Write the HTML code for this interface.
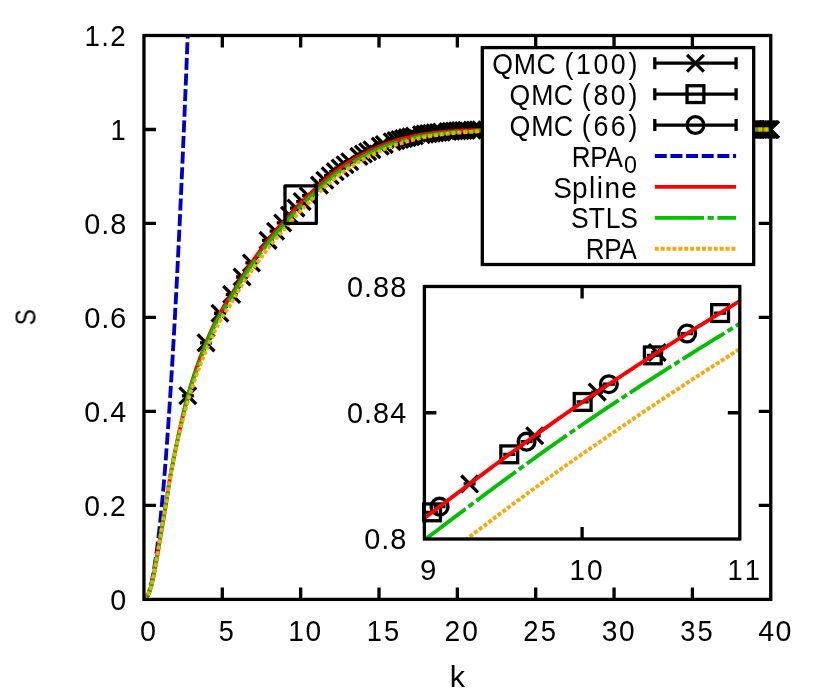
<!DOCTYPE html>
<html>
<head>
<meta charset="utf-8">
<title>S(k)</title>
<style>
html,body{margin:0;padding:0;background:#fff;}
body{width:822px;height:698px;overflow:hidden;font-family:"Liberation Sans",sans-serif;}
svg{display:block;}
</style>
</head>
<body>
<svg width="822" height="698" viewBox="0 0 822 698">
<defs>
<clipPath id="cm"><rect x="143.95" y="35.50" width="626.80" height="563.90"/></clipPath>
<clipPath id="ci"><rect x="424.40" y="286.50" width="315.40" height="252.50"/></clipPath>
</defs>
<rect x="0" y="0" width="822" height="698" fill="#fff"/>
<path d="M222.30,599.40 V587.40 M222.30,35.50 V47.50 M300.65,599.40 V587.40 M300.65,35.50 V47.50 M379.00,599.40 V587.40 M379.00,35.50 V47.50 M457.35,599.40 V587.40 M457.35,35.50 V47.50 M535.70,599.40 V587.40 M535.70,35.50 V47.50 M614.05,599.40 V587.40 M614.05,35.50 V47.50 M692.40,599.40 V587.40 M692.40,35.50 V47.50 M143.95,505.42 H155.95 M770.75,505.42 H758.75 M143.95,411.43 H155.95 M770.75,411.43 H758.75 M143.95,317.45 H155.95 M770.75,317.45 H758.75 M143.95,223.47 H155.95 M770.75,223.47 H758.75 M143.95,129.48 H155.95 M770.75,129.48 H758.75" fill="none" stroke="#000" stroke-width="3.30"/>
<path d="M181.83,395.79 L193.83,395.79 M200.00,342.83 L212.00,342.83 M213.95,313.23 L225.95,313.23 M225.70,294.42 L237.70,294.42 M236.06,277.01 L248.06,277.01 M245.42,262.97 L257.42,262.97 M262.05,240.39 L274.05,240.39 M269.58,231.22 L281.58,231.22 M276.70,222.97 L288.70,222.97 M283.47,215.27 L295.47,215.27 M289.94,208.09 L301.94,208.09 M296.15,201.59 L308.15,201.59 M302.12,195.70 L314.12,195.70 M313.45,185.18 L325.45,185.18 M318.86,180.30 L330.86,180.30 M324.10,175.75 L336.10,175.75 M329.20,171.65 L341.20,171.65 M334.17,168.03 L346.17,168.03 M339.02,164.76 L351.02,164.76 M343.75,161.76 L355.75,161.76 M352.90,156.42 L364.90,156.42 M357.33,154.00 L369.33,154.00 M361.67,151.76 L373.67,151.76 M365.94,149.72 L377.94,149.72 M374.23,146.16 L386.23,146.16 M378.27,144.57 L390.27,144.57 M386.15,141.77 L398.15,141.77 M390.00,140.56 L402.00,140.56 M393.79,139.51 L405.79,139.51 M397.52,138.56 L409.52,138.56 M401.21,137.65 L413.21,137.65 M404.84,136.79 L416.84,136.79 M408.42,136.00 L420.42,136.00 M415.45,134.64 L427.45,134.64 M418.89,134.10 L430.89,134.10 M422.30,133.65 L434.30,133.65 M425.66,133.22 L437.66,133.22 M428.99,132.82 L440.99,132.82 M432.28,132.45 L444.28,132.45 M435.53,132.11 L447.53,132.11 M441.93,131.51 L453.93,131.51 M445.08,131.25 L457.08,131.25 M448.20,131.02 L460.20,131.02 M451.29,130.83 L463.29,130.83 M454.34,130.66 L466.34,130.66 M457.37,130.52 L469.37,130.52 M460.37,130.38 L472.37,130.38 M466.29,130.13 L478.29,130.13 M469.21,130.03 L481.21,130.03 M472.10,129.93 L484.10,129.93 M474.97,129.85 L486.97,129.85 M480.63,129.74 L492.63,129.74 M483.43,129.71 L495.43,129.71 M488.96,129.66 L500.96,129.66 M491.69,129.64 L503.69,129.64 M494.40,129.62 L506.40,129.62 M497.09,129.60 L509.09,129.60 M499.76,129.58 L511.76,129.58 M502.41,129.57 L514.41,129.57 M505.04,129.55 L517.04,129.55 M510.25,129.53 L522.25,129.53 M512.83,129.52 L524.83,129.52 M515.39,129.51 L527.39,129.51 M517.93,129.50 L529.93,129.50 M520.45,129.49 L532.45,129.49 M522.96,129.49 L534.96,129.49 M525.45,129.49 L537.45,129.49 M530.39,129.48 L542.39,129.48 M532.83,129.48 L544.83,129.48 M535.26,129.48 L547.26,129.48 M537.68,129.48 L549.68,129.48 M540.08,129.48 L552.08,129.48 M542.47,129.48 L554.47,129.48 M544.84,129.48 L556.84,129.48 M549.54,129.48 L561.54,129.48 M551.88,129.48 L563.88,129.48 M554.19,129.48 L566.19,129.48 M556.50,129.48 L568.50,129.48 M561.07,129.48 L573.07,129.48 M563.34,129.48 L575.34,129.48 M567.85,129.48 L579.85,129.48 M570.08,129.48 L582.08,129.48 M572.30,129.48 L584.30,129.48 M574.51,129.48 L586.51,129.48 M576.71,129.48 L588.71,129.48 M578.90,129.48 L590.90,129.48 M581.08,129.48 L593.08,129.48 M585.40,129.48 L597.40,129.48 M587.55,129.48 L599.55,129.48 M589.68,129.48 L601.68,129.48 M591.81,129.48 L603.81,129.48 M593.92,129.48 L605.92,129.48 M596.03,129.48 L608.03,129.48 M598.13,129.48 L610.13,129.48 M604.36,129.48 L616.36,129.48 M606.42,129.48 L618.42,129.48 M608.47,129.48 L620.47,129.48 M610.51,129.48 L622.51,129.48 M612.54,129.48 L624.54,129.48 M614.57,129.48 L626.57,129.48 M618.59,129.48 L630.59,129.48 M620.59,129.48 L632.59,129.48 M622.58,129.48 L634.58,129.48 M624.56,129.48 L636.56,129.48 M628.50,129.48 L640.50,129.48 M630.46,129.48 L642.46,129.48 M634.35,129.48 L646.35,129.48 M636.29,129.48 L648.29,129.48 M638.21,129.48 L650.21,129.48 M640.13,129.48 L652.13,129.48 M642.05,129.48 L654.05,129.48 M643.95,129.48 L655.95,129.48 M645.85,129.48 L657.85,129.48 M649.63,129.48 L661.63,129.48 M651.51,129.48 L663.51,129.48 M653.38,129.48 L665.38,129.48 M655.24,129.48 L667.24,129.48 M657.10,129.48 L669.10,129.48 M658.95,129.48 L670.95,129.48 M660.79,129.48 L672.79,129.48 M664.46,129.48 L676.46,129.48 M666.29,129.48 L678.29,129.48 M668.11,129.48 L680.11,129.48 M669.92,129.48 L681.92,129.48 M671.72,129.48 L683.72,129.48 M673.52,129.48 L685.52,129.48 M675.32,129.48 L687.32,129.48 M678.89,129.48 L690.89,129.48 M680.67,129.48 L692.67,129.48 M682.44,129.48 L694.44,129.48 M684.20,129.48 L696.20,129.48 M687.71,129.48 L699.71,129.48 M689.46,129.48 L701.46,129.48 M692.94,129.48 L704.94,129.48 M694.67,129.48 L706.67,129.48 M696.40,129.48 L708.40,129.48 M698.12,129.48 L710.12,129.48 M699.84,129.48 L711.84,129.48 M701.55,129.48 L713.55,129.48 M703.25,129.48 L715.25,129.48 M706.65,129.48 L718.65,129.48 M708.34,129.48 L720.34,129.48 M710.02,129.48 L722.02,129.48 M711.70,129.48 L723.70,129.48 M713.38,129.48 L725.38,129.48 M715.05,129.48 L727.05,129.48 M716.71,129.48 L728.71,129.48 M720.03,129.48 L732.03,129.48 M721.68,129.48 L733.68,129.48 M723.33,129.48 L735.33,129.48 M724.97,129.48 L736.97,129.48 M726.61,129.48 L738.61,129.48 M728.24,129.48 L740.24,129.48 M729.87,129.48 L741.87,129.48 M733.11,129.48 L745.11,129.48 M734.73,129.48 L746.73,129.48 M736.34,129.48 L748.34,129.48 M737.95,129.48 L749.95,129.48 M741.15,129.48 L753.15,129.48 M742.74,129.48 L754.74,129.48 M745.91,129.48 L757.91,129.48 M747.49,129.48 L759.49,129.48 M749.07,129.48 L761.07,129.48 M750.64,129.48 L762.64,129.48 M752.21,129.48 L764.21,129.48 M753.78,129.48 L765.78,129.48 M755.34,129.48 L767.34,129.48 M758.45,129.48 L770.45,129.48 M760.00,129.48 L772.00,129.48 M761.55,129.48 L773.55,129.48 M763.09,129.48 L775.09,129.48 M764.62,129.48 L776.62,129.48" fill="none" stroke="#000" stroke-width="3.30" stroke-linecap="butt" clip-path="url(#cm)"/>
<path d="M179.43,387.39 L196.23,404.19 M179.43,404.19 L196.23,387.39 M197.60,334.43 L214.40,351.23 M197.60,351.23 L214.40,334.43 M211.55,304.83 L228.35,321.63 M211.55,321.63 L228.35,304.83 M223.30,286.02 L240.10,302.82 M223.30,302.82 L240.10,286.02 M233.66,268.61 L250.46,285.41 M233.66,285.41 L250.46,268.61 M243.02,254.57 L259.82,271.37 M243.02,271.37 L259.82,254.57 M259.65,231.99 L276.45,248.79 M259.65,248.79 L276.45,231.99 M267.18,222.82 L283.98,239.62 M267.18,239.62 L283.98,222.82 M274.30,214.57 L291.10,231.37 M274.30,231.37 L291.10,214.57 M281.07,206.87 L297.87,223.67 M281.07,223.67 L297.87,206.87 M287.54,199.69 L304.34,216.49 M287.54,216.49 L304.34,199.69 M293.75,193.19 L310.55,209.99 M293.75,209.99 L310.55,193.19 M299.72,187.30 L316.52,204.10 M299.72,204.10 L316.52,187.30 M311.05,176.78 L327.85,193.58 M311.05,193.58 L327.85,176.78 M316.46,171.90 L333.26,188.70 M316.46,188.70 L333.26,171.90 M321.70,167.35 L338.50,184.15 M321.70,184.15 L338.50,167.35 M326.80,163.25 L343.60,180.05 M326.80,180.05 L343.60,163.25 M331.77,159.63 L348.57,176.43 M331.77,176.43 L348.57,159.63 M336.62,156.36 L353.42,173.16 M336.62,173.16 L353.42,156.36 M341.35,153.36 L358.15,170.16 M341.35,170.16 L358.15,153.36 M350.50,148.02 L367.30,164.82 M350.50,164.82 L367.30,148.02 M354.93,145.60 L371.73,162.40 M354.93,162.40 L371.73,145.60 M359.27,143.36 L376.07,160.16 M359.27,160.16 L376.07,143.36 M363.54,141.32 L380.34,158.12 M363.54,158.12 L380.34,141.32 M371.83,137.76 L388.63,154.56 M371.83,154.56 L388.63,137.76 M375.87,136.17 L392.67,152.97 M375.87,152.97 L392.67,136.17 M383.75,133.37 L400.55,150.17 M383.75,150.17 L400.55,133.37 M387.60,132.16 L404.40,148.96 M387.60,148.96 L404.40,132.16 M391.39,131.11 L408.19,147.91 M391.39,147.91 L408.19,131.11 M395.12,130.16 L411.92,146.96 M395.12,146.96 L411.92,130.16 M398.81,129.25 L415.61,146.05 M398.81,146.05 L415.61,129.25 M402.44,128.39 L419.24,145.19 M402.44,145.19 L419.24,128.39 M406.02,127.60 L422.82,144.40 M406.02,144.40 L422.82,127.60 M413.05,126.24 L429.85,143.04 M413.05,143.04 L429.85,126.24 M416.49,125.70 L433.29,142.50 M416.49,142.50 L433.29,125.70 M419.90,125.25 L436.70,142.05 M419.90,142.05 L436.70,125.25 M423.26,124.82 L440.06,141.62 M423.26,141.62 L440.06,124.82 M426.59,124.42 L443.39,141.22 M426.59,141.22 L443.39,124.42 M429.88,124.05 L446.68,140.85 M429.88,140.85 L446.68,124.05 M433.13,123.71 L449.93,140.51 M433.13,140.51 L449.93,123.71 M439.53,123.11 L456.33,139.91 M439.53,139.91 L456.33,123.11 M442.68,122.85 L459.48,139.65 M442.68,139.65 L459.48,122.85 M445.80,122.62 L462.60,139.42 M445.80,139.42 L462.60,122.62 M448.89,122.43 L465.69,139.23 M448.89,139.23 L465.69,122.43 M451.94,122.26 L468.74,139.06 M451.94,139.06 L468.74,122.26 M454.97,122.12 L471.77,138.92 M454.97,138.92 L471.77,122.12 M457.97,121.98 L474.77,138.78 M457.97,138.78 L474.77,121.98 M463.89,121.73 L480.69,138.53 M463.89,138.53 L480.69,121.73 M466.81,121.63 L483.61,138.43 M466.81,138.43 L483.61,121.63 M469.70,121.53 L486.50,138.33 M469.70,138.33 L486.50,121.53 M472.57,121.45 L489.37,138.25 M472.57,138.25 L489.37,121.45 M478.23,121.34 L495.03,138.14 M478.23,138.14 L495.03,121.34 M481.03,121.31 L497.83,138.11 M481.03,138.11 L497.83,121.31 M486.56,121.26 L503.36,138.06 M486.56,138.06 L503.36,121.26 M489.29,121.24 L506.09,138.04 M489.29,138.04 L506.09,121.24 M492.00,121.22 L508.80,138.02 M492.00,138.02 L508.80,121.22 M494.69,121.20 L511.49,138.00 M494.69,138.00 L511.49,121.20 M497.36,121.18 L514.16,137.98 M497.36,137.98 L514.16,121.18 M500.01,121.17 L516.81,137.97 M500.01,137.97 L516.81,121.17 M502.64,121.15 L519.44,137.95 M502.64,137.95 L519.44,121.15 M507.85,121.13 L524.65,137.93 M507.85,137.93 L524.65,121.13 M510.43,121.12 L527.23,137.92 M510.43,137.92 L527.23,121.12 M512.99,121.11 L529.79,137.91 M512.99,137.91 L529.79,121.11 M515.53,121.10 L532.33,137.90 M515.53,137.90 L532.33,121.10 M518.05,121.09 L534.85,137.89 M518.05,137.89 L534.85,121.09 M520.56,121.09 L537.36,137.89 M520.56,137.89 L537.36,121.09 M523.05,121.09 L539.85,137.89 M523.05,137.89 L539.85,121.09 M527.99,121.08 L544.79,137.88 M527.99,137.88 L544.79,121.08 M530.43,121.08 L547.23,137.88 M530.43,137.88 L547.23,121.08 M532.86,121.08 L549.66,137.88 M532.86,137.88 L549.66,121.08 M535.28,121.08 L552.08,137.88 M535.28,137.88 L552.08,121.08 M537.68,121.08 L554.48,137.88 M537.68,137.88 L554.48,121.08 M540.07,121.08 L556.87,137.88 M540.07,137.88 L556.87,121.08 M542.44,121.08 L559.24,137.88 M542.44,137.88 L559.24,121.08 M547.14,121.08 L563.94,137.88 M547.14,137.88 L563.94,121.08 M549.48,121.08 L566.28,137.88 M549.48,137.88 L566.28,121.08 M551.79,121.08 L568.59,137.88 M551.79,137.88 L568.59,121.08 M554.10,121.08 L570.90,137.88 M554.10,137.88 L570.90,121.08 M558.67,121.08 L575.47,137.88 M558.67,137.88 L575.47,121.08 M560.94,121.08 L577.74,137.88 M560.94,137.88 L577.74,121.08 M565.45,121.08 L582.25,137.88 M565.45,137.88 L582.25,121.08 M567.68,121.08 L584.48,137.88 M567.68,137.88 L584.48,121.08 M569.90,121.08 L586.70,137.88 M569.90,137.88 L586.70,121.08 M572.11,121.08 L588.91,137.88 M572.11,137.88 L588.91,121.08 M574.31,121.08 L591.11,137.88 M574.31,137.88 L591.11,121.08 M576.50,121.08 L593.30,137.88 M576.50,137.88 L593.30,121.08 M578.68,121.08 L595.48,137.88 M578.68,137.88 L595.48,121.08 M583.00,121.08 L599.80,137.88 M583.00,137.88 L599.80,121.08 M585.15,121.08 L601.95,137.88 M585.15,137.88 L601.95,121.08 M587.28,121.08 L604.08,137.88 M587.28,137.88 L604.08,121.08 M589.41,121.08 L606.21,137.88 M589.41,137.88 L606.21,121.08 M591.52,121.08 L608.32,137.88 M591.52,137.88 L608.32,121.08 M593.63,121.08 L610.43,137.88 M593.63,137.88 L610.43,121.08 M595.73,121.08 L612.53,137.88 M595.73,137.88 L612.53,121.08 M601.96,121.08 L618.76,137.88 M601.96,137.88 L618.76,121.08 M604.02,121.08 L620.82,137.88 M604.02,137.88 L620.82,121.08 M606.07,121.08 L622.87,137.88 M606.07,137.88 L622.87,121.08 M608.11,121.08 L624.91,137.88 M608.11,137.88 L624.91,121.08 M610.14,121.08 L626.94,137.88 M610.14,137.88 L626.94,121.08 M612.17,121.08 L628.97,137.88 M612.17,137.88 L628.97,121.08 M616.19,121.08 L632.99,137.88 M616.19,137.88 L632.99,121.08 M618.19,121.08 L634.99,137.88 M618.19,137.88 L634.99,121.08 M620.18,121.08 L636.98,137.88 M620.18,137.88 L636.98,121.08 M622.16,121.08 L638.96,137.88 M622.16,137.88 L638.96,121.08 M626.10,121.08 L642.90,137.88 M626.10,137.88 L642.90,121.08 M628.06,121.08 L644.86,137.88 M628.06,137.88 L644.86,121.08 M631.95,121.08 L648.75,137.88 M631.95,137.88 L648.75,121.08 M633.89,121.08 L650.69,137.88 M633.89,137.88 L650.69,121.08 M635.81,121.08 L652.61,137.88 M635.81,137.88 L652.61,121.08 M637.73,121.08 L654.53,137.88 M637.73,137.88 L654.53,121.08 M639.65,121.08 L656.45,137.88 M639.65,137.88 L656.45,121.08 M641.55,121.08 L658.35,137.88 M641.55,137.88 L658.35,121.08 M643.45,121.08 L660.25,137.88 M643.45,137.88 L660.25,121.08 M647.23,121.08 L664.03,137.88 M647.23,137.88 L664.03,121.08 M649.11,121.08 L665.91,137.88 M649.11,137.88 L665.91,121.08 M650.98,121.08 L667.78,137.88 M650.98,137.88 L667.78,121.08 M652.84,121.08 L669.64,137.88 M652.84,137.88 L669.64,121.08 M654.70,121.08 L671.50,137.88 M654.70,137.88 L671.50,121.08 M656.55,121.08 L673.35,137.88 M656.55,137.88 L673.35,121.08 M658.39,121.08 L675.19,137.88 M658.39,137.88 L675.19,121.08 M662.06,121.08 L678.86,137.88 M662.06,137.88 L678.86,121.08 M663.89,121.08 L680.69,137.88 M663.89,137.88 L680.69,121.08 M665.71,121.08 L682.51,137.88 M665.71,137.88 L682.51,121.08 M667.52,121.08 L684.32,137.88 M667.52,137.88 L684.32,121.08 M669.32,121.08 L686.12,137.88 M669.32,137.88 L686.12,121.08 M671.12,121.08 L687.92,137.88 M671.12,137.88 L687.92,121.08 M672.92,121.08 L689.72,137.88 M672.92,137.88 L689.72,121.08 M676.49,121.08 L693.29,137.88 M676.49,137.88 L693.29,121.08 M678.27,121.08 L695.07,137.88 M678.27,137.88 L695.07,121.08 M680.04,121.08 L696.84,137.88 M680.04,137.88 L696.84,121.08 M681.80,121.08 L698.60,137.88 M681.80,137.88 L698.60,121.08 M685.31,121.08 L702.11,137.88 M685.31,137.88 L702.11,121.08 M687.06,121.08 L703.86,137.88 M687.06,137.88 L703.86,121.08 M690.54,121.08 L707.34,137.88 M690.54,137.88 L707.34,121.08 M692.27,121.08 L709.07,137.88 M692.27,137.88 L709.07,121.08 M694.00,121.08 L710.80,137.88 M694.00,137.88 L710.80,121.08 M695.72,121.08 L712.52,137.88 M695.72,137.88 L712.52,121.08 M697.44,121.08 L714.24,137.88 M697.44,137.88 L714.24,121.08 M699.15,121.08 L715.95,137.88 M699.15,137.88 L715.95,121.08 M700.85,121.08 L717.65,137.88 M700.85,137.88 L717.65,121.08 M704.25,121.08 L721.05,137.88 M704.25,137.88 L721.05,121.08 M705.94,121.08 L722.74,137.88 M705.94,137.88 L722.74,121.08 M707.62,121.08 L724.42,137.88 M707.62,137.88 L724.42,121.08 M709.30,121.08 L726.10,137.88 M709.30,137.88 L726.10,121.08 M710.98,121.08 L727.78,137.88 M710.98,137.88 L727.78,121.08 M712.65,121.08 L729.45,137.88 M712.65,137.88 L729.45,121.08 M714.31,121.08 L731.11,137.88 M714.31,137.88 L731.11,121.08 M717.63,121.08 L734.43,137.88 M717.63,137.88 L734.43,121.08 M719.28,121.08 L736.08,137.88 M719.28,137.88 L736.08,121.08 M720.93,121.08 L737.73,137.88 M720.93,137.88 L737.73,121.08 M722.57,121.08 L739.37,137.88 M722.57,137.88 L739.37,121.08 M724.21,121.08 L741.01,137.88 M724.21,137.88 L741.01,121.08 M725.84,121.08 L742.64,137.88 M725.84,137.88 L742.64,121.08 M727.47,121.08 L744.27,137.88 M727.47,137.88 L744.27,121.08 M730.71,121.08 L747.51,137.88 M730.71,137.88 L747.51,121.08 M732.33,121.08 L749.13,137.88 M732.33,137.88 L749.13,121.08 M733.94,121.08 L750.74,137.88 M733.94,137.88 L750.74,121.08 M735.55,121.08 L752.35,137.88 M735.55,137.88 L752.35,121.08 M738.75,121.08 L755.55,137.88 M738.75,137.88 L755.55,121.08 M740.34,121.08 L757.14,137.88 M740.34,137.88 L757.14,121.08 M743.51,121.08 L760.31,137.88 M743.51,137.88 L760.31,121.08 M745.09,121.08 L761.89,137.88 M745.09,137.88 L761.89,121.08 M746.67,121.08 L763.47,137.88 M746.67,137.88 L763.47,121.08 M748.24,121.08 L765.04,137.88 M748.24,137.88 L765.04,121.08 M749.81,121.08 L766.61,137.88 M749.81,137.88 L766.61,121.08 M751.38,121.08 L768.18,137.88 M751.38,137.88 L768.18,121.08 M752.94,121.08 L769.74,137.88 M752.94,137.88 L769.74,121.08 M756.05,121.08 L772.85,137.88 M756.05,137.88 L772.85,121.08 M757.60,121.08 L774.40,137.88 M757.60,137.88 L774.40,121.08 M759.15,121.08 L775.95,137.88 M759.15,137.88 L775.95,121.08 M760.69,121.08 L777.49,137.88 M760.69,137.88 L777.49,121.08 M762.22,121.08 L779.02,137.88 M762.22,137.88 L779.02,121.08" fill="none" stroke="#000" stroke-width="3.30" stroke-linecap="butt"/>
<g clip-path="url(#cm)" fill="none" stroke-width="3.85" stroke-linejoin="round">
<path d="M143.95,599.40 L144.34,599.35 L144.73,599.22 L145.13,598.99 L145.52,598.68 L145.91,598.27 L146.30,597.77 L146.69,597.18 L147.08,596.51 L147.48,595.74 L147.87,594.88 L148.26,593.93 L148.65,592.89 L149.04,591.76 L149.43,590.54 L149.83,589.22 L150.22,587.82 L150.61,586.33 L151.00,584.75 L151.39,583.07 L151.78,581.31 L152.18,579.45 L152.57,577.51 L152.96,575.47 L153.35,573.35 L153.74,571.13 L154.14,568.82 L154.53,566.43 L154.92,563.94 L155.31,561.36 L155.70,558.69 L156.09,555.93 L156.49,553.09 L156.88,550.15 L157.27,547.11 L157.66,543.99 L158.05,540.78 L158.44,537.48 L158.84,534.09 L159.23,530.61 L159.62,527.03 L160.01,523.37 L160.40,519.62 L160.80,515.77 L161.19,511.84 L161.58,507.81 L161.97,503.69 L162.36,499.49 L162.75,495.19 L163.15,490.80 L163.54,486.33 L163.93,481.76 L164.32,477.10 L164.71,472.35 L165.10,467.51 L165.50,462.58 L165.89,457.56 L166.28,452.45 L166.67,447.25 L167.06,441.96 L167.45,436.57 L167.85,431.10 L168.24,425.54 L168.63,419.88 L169.02,414.14 L169.41,408.31 L169.81,402.38 L170.20,396.36 L170.59,390.26 L170.98,384.06 L171.37,377.78 L171.76,371.40 L172.16,364.93 L172.55,358.37 L172.94,351.72 L173.33,344.98 L173.72,338.15 L174.11,331.23 L174.51,324.22 L174.90,317.12 L175.29,309.93 L175.68,302.65 L176.07,295.28 L176.47,287.81 L176.86,280.26 L177.25,272.62 L177.64,264.88 L178.03,257.06 L178.42,249.14 L178.82,241.14 L179.21,233.04 L179.60,224.85 L179.99,216.58 L180.38,208.21 L180.77,199.75 L181.17,191.20 L181.56,182.57 L181.95,173.84 L182.34,165.02 L182.73,156.11 L183.12,147.11 L183.52,138.01 L183.91,128.83 L184.30,119.56 L184.69,110.20 L185.08,100.74 L185.48,91.20 L185.87,81.57 L186.26,71.84 L186.65,62.03 L187.04,52.12 L187.43,42.13 L187.83,32.04 L188.22,21.86 L188.61,11.60 L189.00,1.24 L189.39,-9.21 L189.78,-19.75 L190.18,-30.38 L190.57,-41.09 L190.96,-51.90" stroke="#0000cd" stroke-dasharray="12 3.64" stroke-dashoffset="-1.5"/>
<path d="M143.95,599.40 L144.73,599.14 L145.52,598.52 L146.30,597.62 L147.08,596.54 L147.87,595.36 L148.65,593.84 L149.43,591.79 L150.22,589.34 L151.00,586.63 L151.78,583.76 L152.57,580.51 L153.35,576.84 L154.14,572.82 L154.92,568.55 L155.70,564.12 L156.49,559.60 L157.27,555.08 L158.05,550.65 L158.84,546.17 L159.62,541.54 L160.40,536.83 L161.19,532.10 L161.97,527.41 L162.75,522.78 L163.54,518.16 L164.32,513.53 L165.10,508.86 L165.89,504.13 L166.67,499.27 L167.45,494.23 L168.24,489.12 L169.02,484.08 L169.81,479.25 L170.59,474.75 L171.37,470.44 L172.16,466.24 L172.94,462.16 L173.72,458.19 L174.51,454.30 L175.29,450.48 L176.07,446.73 L176.86,443.03 L177.64,439.37 L178.42,435.72 L179.21,432.08 L179.99,428.47 L180.77,424.89 L181.56,421.35 L182.34,417.86 L183.12,414.43 L183.91,411.08 L184.69,407.82 L185.48,404.64 L186.26,401.57 L187.04,398.62 L187.83,395.79 L188.61,393.04 L189.39,390.35 L190.18,387.71 L190.96,385.12 L191.74,382.57 L192.53,380.07 L193.31,377.61 L194.09,375.19 L194.88,372.82 L195.66,370.48 L196.44,368.19 L197.23,365.93 L198.01,363.71 L198.79,361.52 L199.58,359.36 L200.36,357.24 L201.15,355.15 L201.93,353.10 L202.71,351.07 L203.50,349.06 L204.28,347.09 L205.06,345.14 L205.85,343.21 L206.63,341.31 L207.41,339.43 L208.20,337.59 L208.98,335.77 L209.76,333.98 L210.55,332.22 L211.33,330.49 L212.11,328.78 L212.90,327.10 L213.68,325.45 L214.46,323.83 L215.25,322.24 L216.03,320.67 L216.82,319.12 L217.60,317.61 L218.38,316.12 L219.17,314.66 L219.95,313.22 L220.73,311.82 L221.52,310.47 L222.30,309.15 L223.08,307.87 L223.87,306.61 L224.65,305.38 L225.43,304.17 L226.22,302.96 L227.00,301.77 L227.78,300.57 L228.57,299.37 L229.35,298.16 L230.13,296.94 L230.92,295.69 L231.70,294.42 L232.49,293.13 L233.27,291.82 L234.05,290.49 L234.84,289.15 L235.62,287.81 L236.40,286.46 L237.19,285.12 L237.97,283.78 L238.75,282.45 L239.54,281.13 L240.32,279.83 L241.10,278.55 L241.89,277.29 L242.67,276.05 L243.45,274.82 L244.24,273.61 L245.02,272.41 L245.80,271.22 L246.59,270.04 L247.37,268.88 L248.16,267.72 L248.94,266.57 L249.72,265.42 L250.51,264.29 L251.29,263.16 L252.07,262.04 L252.86,260.93 L253.64,259.82 L254.42,258.71 L255.21,257.61 L255.99,256.51 L256.77,255.42 L257.56,254.33 L258.34,253.25 L259.12,252.17 L259.91,251.10 L260.69,250.04 L261.48,248.98 L262.26,247.93 L263.04,246.89 L263.83,245.85 L264.61,244.82 L265.39,243.80 L266.18,242.79 L266.96,241.78 L267.74,240.78 L268.53,239.79 L269.31,238.81 L270.09,237.84 L270.88,236.87 L271.66,235.91 L272.44,234.96 L273.23,234.02 L274.01,233.08 L274.79,232.14 L275.58,231.22 L276.36,230.29 L277.14,229.38 L277.93,228.46 L278.71,227.55 L279.50,226.65 L280.28,225.74 L281.06,224.84 L281.85,223.94 L282.63,223.05 L283.41,222.15 L284.20,221.26 L284.98,220.37 L285.76,219.47 L286.55,218.58 L287.33,217.69 L288.11,216.80 L288.90,215.91 L289.68,215.03 L290.46,214.15 L291.25,213.27 L292.03,212.39 L292.81,211.52 L293.60,210.65 L294.38,209.79 L295.17,208.94 L295.95,208.08 L296.73,207.24 L297.52,206.40 L298.30,205.57 L299.08,204.74 L299.87,203.93 L300.65,203.12 L301.43,202.32 L302.22,201.52 L303.00,200.73 L303.78,199.95 L304.57,199.17 L305.35,198.39 L306.13,197.63 L306.92,196.86 L307.70,196.10 L308.49,195.35 L309.27,194.60 L310.05,193.85 L310.84,193.11 L311.62,192.38 L312.40,191.64 L313.19,190.92 L313.97,190.19 L314.75,189.47 L315.54,188.75 L316.32,188.03 L317.10,187.32 L317.89,186.61 L318.67,185.89 L319.45,185.18 L320.24,184.46 L321.02,183.75 L321.80,183.04 L322.59,182.33 L323.37,181.63 L324.15,180.92 L324.94,180.22 L325.72,179.53 L326.51,178.84 L327.29,178.16 L328.07,177.48 L328.86,176.80 L329.64,176.14 L330.42,175.48 L331.21,174.83 L331.99,174.19 L332.77,173.55 L333.56,172.93 L334.34,172.31 L335.12,171.71 L335.91,171.12 L336.69,170.53 L337.47,169.96 L338.26,169.39 L339.04,168.83 L339.82,168.28 L340.61,167.73 L341.39,167.19 L342.18,166.65 L342.96,166.12 L343.74,165.60 L344.53,165.08 L345.31,164.57 L346.09,164.06 L346.88,163.56 L347.66,163.06 L348.44,162.57 L349.23,162.08 L350.01,161.60 L350.79,161.13 L351.58,160.65 L352.36,160.18 L353.14,159.72 L353.93,159.26 L354.71,158.80 L355.50,158.35 L356.28,157.90 L357.06,157.45 L357.85,157.01 L358.63,156.57 L359.41,156.13 L360.20,155.70 L360.98,155.27 L361.76,154.84 L362.55,154.42 L363.33,154.00 L364.11,153.58 L364.90,153.18 L365.68,152.77 L366.46,152.37 L367.25,151.98 L368.03,151.59 L368.81,151.20 L369.60,150.82 L370.38,150.45 L371.16,150.08 L371.95,149.72 L372.73,149.36 L373.52,149.01 L374.30,148.66 L375.08,148.32 L375.87,147.98 L376.65,147.64 L377.43,147.31 L378.22,146.98 L379.00,146.66 L379.78,146.34 L380.57,146.02 L381.35,145.71 L382.13,145.40 L382.92,145.09 L383.70,144.79 L384.48,144.49 L385.27,144.19 L386.05,143.90 L386.83,143.62 L387.62,143.33 L388.40,143.05 L389.19,142.78 L389.97,142.51 L390.75,142.24 L391.54,141.98 L392.32,141.72 L393.10,141.46 L393.89,141.21 L394.67,140.97 L395.45,140.73 L396.24,140.49 L397.02,140.26 L397.80,140.04 L398.59,139.82 L399.37,139.61 L400.15,139.41 L400.94,139.21 L401.72,139.01 L402.50,138.81 L403.29,138.62 L404.07,138.42 L404.86,138.23 L405.64,138.03 L406.42,137.84 L407.21,137.65 L407.99,137.46 L408.77,137.27 L409.56,137.09 L410.34,136.91 L411.12,136.73 L411.91,136.55 L412.69,136.37 L413.47,136.20 L414.26,136.03 L415.04,135.87 L415.82,135.70 L416.61,135.54 L417.39,135.39 L418.18,135.24 L418.96,135.09 L419.74,134.94 L420.53,134.80 L421.31,134.67 L422.09,134.53 L422.88,134.41 L423.66,134.29 L424.44,134.17 L425.23,134.06 L426.01,133.95 L426.79,133.84 L427.58,133.74 L428.36,133.64 L429.14,133.54 L429.93,133.44 L430.71,133.34 L431.49,133.24 L432.28,133.14 L433.06,133.05 L433.84,132.96 L434.63,132.86 L435.41,132.77 L436.20,132.68 L436.98,132.59 L437.76,132.51 L438.55,132.42 L439.33,132.34 L440.11,132.25 L440.90,132.17 L441.68,132.09 L442.46,132.01 L443.25,131.94 L444.03,131.86 L444.81,131.79 L445.60,131.71 L446.38,131.64 L447.16,131.57 L447.95,131.51 L448.73,131.44 L449.51,131.37 L450.30,131.31 L451.08,131.25 L451.87,131.19 L452.65,131.13 L453.43,131.08 L454.22,131.02 L455.00,130.97 L455.78,130.92 L456.57,130.87 L457.35,130.83 L458.13,130.78 L458.92,130.74 L459.70,130.70 L460.48,130.66 L461.27,130.62 L462.05,130.58 L462.83,130.55 L463.62,130.51 L464.40,130.47 L465.19,130.44 L465.97,130.40 L466.75,130.37 L467.54,130.33 L468.32,130.30 L469.10,130.26 L469.89,130.23 L470.67,130.20 L471.45,130.17 L472.24,130.14 L473.02,130.11 L473.80,130.08 L474.59,130.05 L475.37,130.02 L476.15,130.00 L476.94,129.97 L477.72,129.95 L478.50,129.92 L479.29,129.90 L480.07,129.88 L480.85,129.86 L481.64,129.84 L482.42,129.82 L483.21,129.80 L483.99,129.79 L484.77,129.77 L485.56,129.76 L486.34,129.75 L487.12,129.74 L487.91,129.73 L488.69,129.72 L489.47,129.71 L490.26,129.70 L491.04,129.70 L491.82,129.69 L492.61,129.68 L493.39,129.68 L494.17,129.67 L494.96,129.66 L495.74,129.66 L496.52,129.65 L497.31,129.64 L498.09,129.64 L498.88,129.63 L499.66,129.63 L500.44,129.62 L501.23,129.61 L502.01,129.61 L502.79,129.60 L503.58,129.60 L504.36,129.59 L505.14,129.59 L505.93,129.58 L506.71,129.58 L507.49,129.57 L508.28,129.57 L509.06,129.56 L509.84,129.56 L510.63,129.55 L511.41,129.55 L512.19,129.55 L512.98,129.54 L513.76,129.54 L514.55,129.53 L515.33,129.53 L516.11,129.53 L516.90,129.52 L517.68,129.52 L518.46,129.52 L519.25,129.51 L520.03,129.51 L520.81,129.51 L521.60,129.51 L522.38,129.50 L523.16,129.50 L523.95,129.50 L524.73,129.50 L525.51,129.50 L526.30,129.49 L527.08,129.49 L527.87,129.49 L528.65,129.49 L529.43,129.49 L530.22,129.49 L531.00,129.49 L531.78,129.49 L532.57,129.48 L533.35,129.48 L534.13,129.48 L534.92,129.48 L535.70,129.48 L536.48,129.48 L537.27,129.48 L538.05,129.48 L538.83,129.48 L539.62,129.48 L540.40,129.48 L541.18,129.48 L541.97,129.48 L542.75,129.48 L543.53,129.48 L544.32,129.48 L545.10,129.48 L545.89,129.48 L546.67,129.48 L547.45,129.48 L548.24,129.48 L549.02,129.48 L549.80,129.48 L550.59,129.48 L551.37,129.48 L552.15,129.48 L552.94,129.48 L553.72,129.48 L554.50,129.48 L555.29,129.48 L556.07,129.48 L556.85,129.48 L557.64,129.48 L558.42,129.48 L559.20,129.48 L559.99,129.48 L560.77,129.48 L561.56,129.48 L562.34,129.48 L563.12,129.48 L563.91,129.48 L564.69,129.48 L565.47,129.48 L566.26,129.48 L567.04,129.48 L567.82,129.48 L568.61,129.48 L569.39,129.48 L570.17,129.48 L570.96,129.48 L571.74,129.48 L572.52,129.48 L573.31,129.48 L574.09,129.48 L574.88,129.48 L575.66,129.48 L576.44,129.48 L577.23,129.48 L578.01,129.48 L578.79,129.48 L579.58,129.48 L580.36,129.48 L581.14,129.48 L581.93,129.48 L582.71,129.48 L583.49,129.48 L584.28,129.48 L585.06,129.48 L585.84,129.48 L586.63,129.48 L587.41,129.48 L588.19,129.48 L588.98,129.48 L589.76,129.48 L590.54,129.48 L591.33,129.48 L592.11,129.48 L592.90,129.48 L593.68,129.48 L594.46,129.48 L595.25,129.48 L596.03,129.48 L596.81,129.48 L597.60,129.48 L598.38,129.48 L599.16,129.48 L599.95,129.48 L600.73,129.48 L601.51,129.48 L602.30,129.48 L603.08,129.48 L603.86,129.48 L604.65,129.48 L605.43,129.48 L606.21,129.48 L607.00,129.48 L607.78,129.48 L608.57,129.48 L609.35,129.48 L610.13,129.48 L610.92,129.48 L611.70,129.48 L612.48,129.48 L613.27,129.48 L614.05,129.48 L614.83,129.48 L615.62,129.48 L616.40,129.48 L617.18,129.48 L617.97,129.48 L618.75,129.48 L619.53,129.48 L620.32,129.48 L621.10,129.48 L621.88,129.48 L622.67,129.48 L623.45,129.48 L624.24,129.48 L625.02,129.48 L625.80,129.48 L626.59,129.48 L627.37,129.48 L628.15,129.48 L628.94,129.48 L629.72,129.48 L630.50,129.48 L631.29,129.48 L632.07,129.48 L632.85,129.48 L633.64,129.48 L634.42,129.48 L635.20,129.48 L635.99,129.48 L636.77,129.48 L637.55,129.48 L638.34,129.48 L639.12,129.48 L639.91,129.48 L640.69,129.48 L641.47,129.48 L642.26,129.48 L643.04,129.48 L643.82,129.48 L644.61,129.48 L645.39,129.48 L646.17,129.48 L646.96,129.48 L647.74,129.48 L648.52,129.48 L649.31,129.48 L650.09,129.48 L650.87,129.48 L651.66,129.48 L652.44,129.48 L653.22,129.48 L654.01,129.48 L654.79,129.48 L655.58,129.48 L656.36,129.48 L657.14,129.48 L657.93,129.48 L658.71,129.48 L659.49,129.48 L660.28,129.48 L661.06,129.48 L661.84,129.48 L662.63,129.48 L663.41,129.48 L664.19,129.48 L664.98,129.48 L665.76,129.48 L666.54,129.48 L667.33,129.48 L668.11,129.48 L668.89,129.48 L669.68,129.48 L670.46,129.48 L671.25,129.48 L672.03,129.48 L672.81,129.48 L673.60,129.48 L674.38,129.48 L675.16,129.48 L675.95,129.48 L676.73,129.48 L677.51,129.48 L678.30,129.48 L679.08,129.48 L679.86,129.48 L680.65,129.48 L681.43,129.48 L682.21,129.48 L683.00,129.48 L683.78,129.48 L684.57,129.48 L685.35,129.48 L686.13,129.48 L686.92,129.48 L687.70,129.48 L688.48,129.48 L689.27,129.48 L690.05,129.48 L690.83,129.48 L691.62,129.48 L692.40,129.48 L693.18,129.48 L693.97,129.48 L694.75,129.48 L695.53,129.48 L696.32,129.48 L697.10,129.48 L697.88,129.48 L698.67,129.48 L699.45,129.48 L700.23,129.48 L701.02,129.48 L701.80,129.48 L702.59,129.48 L703.37,129.48 L704.15,129.48 L704.94,129.48 L705.72,129.48 L706.50,129.48 L707.29,129.48 L708.07,129.48 L708.85,129.48 L709.64,129.48 L710.42,129.48 L711.20,129.48 L711.99,129.48 L712.77,129.48 L713.55,129.48 L714.34,129.48 L715.12,129.48 L715.90,129.48 L716.69,129.48 L717.47,129.48 L718.26,129.48 L719.04,129.48 L719.82,129.48 L720.61,129.48 L721.39,129.48 L722.17,129.48 L722.96,129.48 L723.74,129.48 L724.52,129.48 L725.31,129.48 L726.09,129.48 L726.87,129.48 L727.66,129.48 L728.44,129.48 L729.22,129.48 L730.01,129.48 L730.79,129.48 L731.58,129.48 L732.36,129.48 L733.14,129.48 L733.93,129.48 L734.71,129.48 L735.49,129.48 L736.28,129.48 L737.06,129.48 L737.84,129.48 L738.63,129.48 L739.41,129.48 L740.19,129.48 L740.98,129.48 L741.76,129.48 L742.54,129.48 L743.33,129.48 L744.11,129.48 L744.89,129.48 L745.68,129.48 L746.46,129.48 L747.24,129.48 L748.03,129.48 L748.81,129.48 L749.60,129.48 L750.38,129.48 L751.16,129.48 L751.95,129.48 L752.73,129.48 L753.51,129.48 L754.30,129.48 L755.08,129.48 L755.86,129.48 L756.65,129.48 L757.43,129.48 L758.21,129.48 L759.00,129.48 L759.78,129.48 L760.56,129.48 L761.35,129.48 L762.13,129.48 L762.91,129.48 L763.70,129.48 L764.48,129.48 L765.27,129.48 L766.05,129.48 L766.83,129.48 L767.62,129.48 L768.40,129.48 L769.18,129.48 L769.97,129.48 L770.75,129.48" stroke="#ff0000"/>
<path d="M143.95,599.40 L144.73,599.14 L145.52,598.52 L146.30,597.62 L147.08,596.54 L147.87,595.36 L148.65,593.84 L149.43,591.79 L150.22,589.34 L151.00,586.63 L151.78,583.76 L152.57,580.51 L153.35,576.84 L154.14,572.82 L154.92,568.55 L155.70,564.12 L156.49,559.60 L157.27,555.08 L158.05,550.65 L158.84,546.17 L159.62,541.54 L160.40,536.83 L161.19,532.10 L161.97,527.41 L162.75,522.78 L163.54,518.16 L164.32,513.53 L165.10,508.86 L165.89,504.13 L166.67,499.27 L167.45,494.23 L168.24,489.12 L169.02,484.10 L169.81,479.29 L170.59,474.82 L171.37,470.53 L172.16,466.38 L172.94,462.34 L173.72,458.40 L174.51,454.55 L175.29,450.78 L176.07,447.08 L176.86,443.42 L177.64,439.80 L178.42,436.19 L179.21,432.59 L179.99,429.01 L180.77,425.46 L181.56,421.96 L182.34,418.50 L183.12,415.12 L183.91,411.80 L184.69,408.57 L185.48,405.44 L186.26,402.41 L187.04,399.51 L187.83,396.72 L188.61,394.04 L189.39,391.43 L190.18,388.87 L190.96,386.36 L191.74,383.91 L192.53,381.50 L193.31,379.13 L194.09,376.81 L194.88,374.52 L195.66,372.25 L196.44,370.02 L197.23,367.81 L198.01,365.62 L198.79,363.47 L199.58,361.35 L200.36,359.26 L201.15,357.20 L201.93,355.17 L202.71,353.16 L203.50,351.19 L204.28,349.23 L205.06,347.31 L205.85,345.40 L206.63,343.52 L207.41,341.66 L208.20,339.84 L208.98,338.04 L209.76,336.27 L210.55,334.52 L211.33,332.81 L212.11,331.12 L212.90,329.45 L213.68,327.82 L214.46,326.21 L215.25,324.63 L216.03,323.08 L216.82,321.55 L217.60,320.05 L218.38,318.57 L219.17,317.12 L219.95,315.70 L220.73,314.31 L221.52,312.97 L222.30,311.67 L223.08,310.40 L223.87,309.15 L224.65,307.93 L225.43,306.73 L226.22,305.54 L227.00,304.35 L227.78,303.17 L228.57,301.98 L229.35,300.78 L230.13,299.57 L230.92,298.34 L231.70,297.08 L232.49,295.79 L233.27,294.49 L234.05,293.17 L234.84,291.85 L235.62,290.51 L236.40,289.18 L237.19,287.84 L237.97,286.51 L238.75,285.19 L239.54,283.88 L240.32,282.59 L241.10,281.31 L241.89,280.06 L242.67,278.84 L243.45,277.62 L244.24,276.42 L245.02,275.23 L245.80,274.05 L246.59,272.88 L247.37,271.72 L248.16,270.57 L248.94,269.43 L249.72,268.29 L250.51,267.17 L251.29,266.05 L252.07,264.94 L252.86,263.83 L253.64,262.73 L254.42,261.63 L255.21,260.54 L255.99,259.45 L256.77,258.37 L257.56,257.29 L258.34,256.22 L259.12,255.15 L259.91,254.09 L260.69,253.04 L261.48,251.99 L262.26,250.95 L263.04,249.91 L263.83,248.88 L264.61,247.86 L265.39,246.85 L266.18,245.85 L266.96,244.85 L267.74,243.86 L268.53,242.88 L269.31,241.90 L270.09,240.94 L270.88,239.98 L271.66,239.03 L272.44,238.09 L273.23,237.15 L274.01,236.22 L274.79,235.30 L275.58,234.38 L276.36,233.46 L277.14,232.55 L277.93,231.65 L278.71,230.74 L279.50,229.84 L280.28,228.95 L281.06,228.05 L281.85,227.16 L282.63,226.27 L283.41,225.38 L284.20,224.49 L284.98,223.61 L285.76,222.72 L286.55,221.83 L287.33,220.95 L288.11,220.07 L288.90,219.18 L289.68,218.30 L290.46,217.43 L291.25,216.55 L292.03,215.68 L292.81,214.82 L293.60,213.96 L294.38,213.10 L295.17,212.25 L295.95,211.40 L296.73,210.56 L297.52,209.72 L298.30,208.90 L299.08,208.07 L299.87,207.26 L300.65,206.46 L301.43,205.66 L302.22,204.86 L303.00,204.08 L303.78,203.30 L304.57,202.52 L305.35,201.75 L306.13,200.98 L306.92,200.22 L307.70,199.47 L308.49,198.72 L309.27,197.97 L310.05,197.23 L310.84,196.49 L311.62,195.75 L312.40,195.02 L313.19,194.30 L313.97,193.57 L314.75,192.85 L315.54,192.13 L316.32,191.42 L317.10,190.70 L317.89,189.99 L318.67,189.27 L319.45,188.55 L320.24,187.83 L321.02,187.12 L321.80,186.40 L322.59,185.68 L323.37,184.97 L324.15,184.26 L324.94,183.55 L325.72,182.85 L326.51,182.15 L327.29,181.45 L328.07,180.76 L328.86,180.08 L329.64,179.40 L330.42,178.72 L331.21,178.06 L331.99,177.40 L332.77,176.75 L333.56,176.11 L334.34,175.48 L335.12,174.86 L335.91,174.25 L336.69,173.65 L337.47,173.06 L338.26,172.48 L339.04,171.90 L339.82,171.33 L340.61,170.76 L341.39,170.20 L342.18,169.65 L342.96,169.10 L343.74,168.56 L344.53,168.03 L345.31,167.50 L346.09,166.97 L346.88,166.46 L347.66,165.94 L348.44,165.43 L349.23,164.93 L350.01,164.43 L350.79,163.94 L351.58,163.45 L352.36,162.97 L353.14,162.49 L353.93,162.01 L354.71,161.54 L355.50,161.08 L356.28,160.61 L357.06,160.15 L357.85,159.69 L358.63,159.24 L359.41,158.79 L360.20,158.34 L360.98,157.90 L361.76,157.46 L362.55,157.02 L363.33,156.59 L364.11,156.16 L364.90,155.74 L365.68,155.32 L366.46,154.91 L367.25,154.50 L368.03,154.09 L368.81,153.69 L369.60,153.30 L370.38,152.91 L371.16,152.53 L371.95,152.15 L372.73,151.78 L373.52,151.42 L374.30,151.06 L375.08,150.70 L375.87,150.35 L376.65,150.00 L377.43,149.65 L378.22,149.31 L379.00,148.97 L379.78,148.63 L380.57,148.30 L381.35,147.97 L382.13,147.65 L382.92,147.33 L383.70,147.02 L384.48,146.70 L385.27,146.40 L386.05,146.09 L386.83,145.79 L387.62,145.50 L388.40,145.20 L389.19,144.91 L389.97,144.63 L390.75,144.35 L391.54,144.07 L392.32,143.80 L393.10,143.53 L393.89,143.27 L394.67,143.01 L395.45,142.76 L396.24,142.51 L397.02,142.27 L397.80,142.04 L398.59,141.81 L399.37,141.59 L400.15,141.37 L400.94,141.16 L401.72,140.95 L402.50,140.74 L403.29,140.53 L404.07,140.33 L404.86,140.12 L405.64,139.91 L406.42,139.71 L407.21,139.51 L407.99,139.31 L408.77,139.11 L409.56,138.92 L410.34,138.72 L411.12,138.53 L411.91,138.34 L412.69,138.16 L413.47,137.97 L414.26,137.79 L415.04,137.62 L415.82,137.44 L416.61,137.27 L417.39,137.11 L418.18,136.95 L418.96,136.79 L419.74,136.63 L420.53,136.48 L421.31,136.34 L422.09,136.19 L422.88,136.06 L423.66,135.92 L424.44,135.80 L425.23,135.67 L426.01,135.56 L426.79,135.44 L427.58,135.33 L428.36,135.22 L429.14,135.10 L429.93,135.00 L430.71,134.89 L431.49,134.78 L432.28,134.67 L433.06,134.57 L433.84,134.46 L434.63,134.36 L435.41,134.26 L436.20,134.16 L436.98,134.06 L437.76,133.97 L438.55,133.87 L439.33,133.78 L440.11,133.68 L440.90,133.59 L441.68,133.50 L442.46,133.41 L443.25,133.33 L444.03,133.24 L444.81,133.16 L445.60,133.07 L446.38,132.99 L447.16,132.91 L447.95,132.83 L448.73,132.76 L449.51,132.68 L450.30,132.61 L451.08,132.54 L451.87,132.47 L452.65,132.40 L453.43,132.34 L454.22,132.27 L455.00,132.21 L455.78,132.15 L456.57,132.09 L457.35,132.03 L458.13,131.98 L458.92,131.93 L459.70,131.88 L460.48,131.83 L461.27,131.78 L462.05,131.73 L462.83,131.68 L463.62,131.64 L464.40,131.59 L465.19,131.54 L465.97,131.50 L466.75,131.45 L467.54,131.41 L468.32,131.37 L469.10,131.32 L469.89,131.28 L470.67,131.24 L471.45,131.20 L472.24,131.16 L473.02,131.12 L473.80,131.08 L474.59,131.04 L475.37,131.01 L476.15,130.97 L476.94,130.94 L477.72,130.90 L478.50,130.87 L479.29,130.84 L480.07,130.81 L480.85,130.78 L481.64,130.75 L482.42,130.73 L483.21,130.70 L483.99,130.68 L484.77,130.66 L485.56,130.63 L486.34,130.61 L487.12,130.60 L487.91,130.58 L488.69,130.56 L489.47,130.55 L490.26,130.54 L491.04,130.52 L491.82,130.51 L492.61,130.49 L493.39,130.48 L494.17,130.46 L494.96,130.45 L495.74,130.44 L496.52,130.42 L497.31,130.41 L498.09,130.40 L498.88,130.38 L499.66,130.37 L500.44,130.36 L501.23,130.34 L502.01,130.33 L502.79,130.32 L503.58,130.30 L504.36,130.29 L505.14,130.28 L505.93,130.27 L506.71,130.26 L507.49,130.24 L508.28,130.23 L509.06,130.22 L509.84,130.21 L510.63,130.20 L511.41,130.19 L512.19,130.18 L512.98,130.16 L513.76,130.15 L514.55,130.14 L515.33,130.13 L516.11,130.12 L516.90,130.11 L517.68,130.10 L518.46,130.09 L519.25,130.08 L520.03,130.07 L520.81,130.07 L521.60,130.06 L522.38,130.05 L523.16,130.04 L523.95,130.03 L524.73,130.02 L525.51,130.02 L526.30,130.01 L527.08,130.00 L527.87,129.99 L528.65,129.99 L529.43,129.98 L530.22,129.97 L531.00,129.97 L531.78,129.96 L532.57,129.95 L533.35,129.95 L534.13,129.94 L534.92,129.94 L535.70,129.93 L536.48,129.93 L537.27,129.92 L538.05,129.92 L538.83,129.91 L539.62,129.91 L540.40,129.91 L541.18,129.90 L541.97,129.90 L542.75,129.89 L543.53,129.89 L544.32,129.89 L545.10,129.88 L545.89,129.88 L546.67,129.88 L547.45,129.87 L548.24,129.87 L549.02,129.87 L549.80,129.86 L550.59,129.86 L551.37,129.86 L552.15,129.86 L552.94,129.85 L553.72,129.85 L554.50,129.85 L555.29,129.85 L556.07,129.84 L556.85,129.84 L557.64,129.84 L558.42,129.84 L559.20,129.83 L559.99,129.83 L560.77,129.83 L561.56,129.83 L562.34,129.83 L563.12,129.82 L563.91,129.82 L564.69,129.82 L565.47,129.82 L566.26,129.81 L567.04,129.81 L567.82,129.81 L568.61,129.81 L569.39,129.80 L570.17,129.80 L570.96,129.80 L571.74,129.80 L572.52,129.79 L573.31,129.79 L574.09,129.79 L574.88,129.79 L575.66,129.79 L576.44,129.78 L577.23,129.78 L578.01,129.78 L578.79,129.78 L579.58,129.77 L580.36,129.77 L581.14,129.77 L581.93,129.77 L582.71,129.77 L583.49,129.76 L584.28,129.76 L585.06,129.76 L585.84,129.76 L586.63,129.75 L587.41,129.75 L588.19,129.75 L588.98,129.75 L589.76,129.75 L590.54,129.74 L591.33,129.74 L592.11,129.74 L592.90,129.74 L593.68,129.74 L594.46,129.73 L595.25,129.73 L596.03,129.73 L596.81,129.73 L597.60,129.73 L598.38,129.72 L599.16,129.72 L599.95,129.72 L600.73,129.72 L601.51,129.72 L602.30,129.71 L603.08,129.71 L603.86,129.71 L604.65,129.71 L605.43,129.71 L606.21,129.70 L607.00,129.70 L607.78,129.70 L608.57,129.70 L609.35,129.70 L610.13,129.69 L610.92,129.69 L611.70,129.69 L612.48,129.69 L613.27,129.69 L614.05,129.68 L614.83,129.68 L615.62,129.68 L616.40,129.68 L617.18,129.68 L617.97,129.67 L618.75,129.67 L619.53,129.67 L620.32,129.67 L621.10,129.67 L621.88,129.67 L622.67,129.66 L623.45,129.66 L624.24,129.66 L625.02,129.66 L625.80,129.66 L626.59,129.65 L627.37,129.65 L628.15,129.65 L628.94,129.65 L629.72,129.65 L630.50,129.65 L631.29,129.64 L632.07,129.64 L632.85,129.64 L633.64,129.64 L634.42,129.64 L635.20,129.64 L635.99,129.63 L636.77,129.63 L637.55,129.63 L638.34,129.63 L639.12,129.63 L639.91,129.63 L640.69,129.62 L641.47,129.62 L642.26,129.62 L643.04,129.62 L643.82,129.62 L644.61,129.62 L645.39,129.61 L646.17,129.61 L646.96,129.61 L647.74,129.61 L648.52,129.61 L649.31,129.61 L650.09,129.61 L650.87,129.60 L651.66,129.60 L652.44,129.60 L653.22,129.60 L654.01,129.60 L654.79,129.60 L655.58,129.59 L656.36,129.59 L657.14,129.59 L657.93,129.59 L658.71,129.59 L659.49,129.59 L660.28,129.59 L661.06,129.58 L661.84,129.58 L662.63,129.58 L663.41,129.58 L664.19,129.58 L664.98,129.58 L665.76,129.58 L666.54,129.58 L667.33,129.57 L668.11,129.57 L668.89,129.57 L669.68,129.57 L670.46,129.57 L671.25,129.57 L672.03,129.57 L672.81,129.56 L673.60,129.56 L674.38,129.56 L675.16,129.56 L675.95,129.56 L676.73,129.56 L677.51,129.56 L678.30,129.56 L679.08,129.56 L679.86,129.55 L680.65,129.55 L681.43,129.55 L682.21,129.55 L683.00,129.55 L683.78,129.55 L684.57,129.55 L685.35,129.55 L686.13,129.54 L686.92,129.54 L687.70,129.54 L688.48,129.54 L689.27,129.54 L690.05,129.54 L690.83,129.54 L691.62,129.54 L692.40,129.54 L693.18,129.54 L693.97,129.53 L694.75,129.53 L695.53,129.53 L696.32,129.53 L697.10,129.53 L697.88,129.53 L698.67,129.53 L699.45,129.53 L700.23,129.53 L701.02,129.53 L701.80,129.52 L702.59,129.52 L703.37,129.52 L704.15,129.52 L704.94,129.52 L705.72,129.52 L706.50,129.52 L707.29,129.52 L708.07,129.52 L708.85,129.52 L709.64,129.52 L710.42,129.52 L711.20,129.51 L711.99,129.51 L712.77,129.51 L713.55,129.51 L714.34,129.51 L715.12,129.51 L715.90,129.51 L716.69,129.51 L717.47,129.51 L718.26,129.51 L719.04,129.51 L719.82,129.51 L720.61,129.51 L721.39,129.50 L722.17,129.50 L722.96,129.50 L723.74,129.50 L724.52,129.50 L725.31,129.50 L726.09,129.50 L726.87,129.50 L727.66,129.50 L728.44,129.50 L729.22,129.50 L730.01,129.50 L730.79,129.50 L731.58,129.50 L732.36,129.50 L733.14,129.50 L733.93,129.50 L734.71,129.49 L735.49,129.49 L736.28,129.49 L737.06,129.49 L737.84,129.49 L738.63,129.49 L739.41,129.49 L740.19,129.49 L740.98,129.49 L741.76,129.49 L742.54,129.49 L743.33,129.49 L744.11,129.49 L744.89,129.49 L745.68,129.49 L746.46,129.49 L747.24,129.49 L748.03,129.49 L748.81,129.49 L749.60,129.49 L750.38,129.49 L751.16,129.49 L751.95,129.49 L752.73,129.49 L753.51,129.49 L754.30,129.49 L755.08,129.49 L755.86,129.49 L756.65,129.49 L757.43,129.48 L758.21,129.48 L759.00,129.48 L759.78,129.48 L760.56,129.48 L761.35,129.48 L762.13,129.48 L762.91,129.48 L763.70,129.48 L764.48,129.48 L765.27,129.48 L766.05,129.48 L766.83,129.48 L767.62,129.48 L768.40,129.48 L769.18,129.48 L769.97,129.48 L770.75,129.48" stroke="#00c000" stroke-dasharray="49.2 3.6 6.2 3.6"/>
<path d="M143.95,599.40 L144.73,599.14 L145.52,598.52 L146.30,597.62 L147.08,596.54 L147.87,595.36 L148.65,593.84 L149.43,591.79 L150.22,589.34 L151.00,586.63 L151.78,583.76 L152.57,580.51 L153.35,576.84 L154.14,572.82 L154.92,568.55 L155.70,564.12 L156.49,559.60 L157.27,555.08 L158.05,550.65 L158.84,546.17 L159.62,541.54 L160.40,536.83 L161.19,532.10 L161.97,527.41 L162.75,522.78 L163.54,518.16 L164.32,513.53 L165.10,508.86 L165.89,504.13 L166.67,499.27 L167.45,494.23 L168.24,489.14 L169.02,484.16 L169.81,479.42 L170.59,475.05 L171.37,470.88 L172.16,466.86 L172.94,462.97 L173.72,459.20 L174.51,455.53 L175.29,451.94 L176.07,448.41 L176.86,444.94 L177.64,441.50 L178.42,438.07 L179.21,434.66 L179.99,431.30 L180.77,428.00 L181.56,424.76 L182.34,421.58 L183.12,418.47 L183.91,415.43 L184.69,412.46 L185.48,409.58 L186.26,406.77 L187.04,404.05 L187.83,401.42 L188.61,398.87 L189.39,396.35 L190.18,393.88 L190.96,391.46 L191.74,389.07 L192.53,386.72 L193.31,384.40 L194.09,382.11 L194.88,379.85 L195.66,377.61 L196.44,375.40 L197.23,373.21 L198.01,371.05 L198.79,368.92 L199.58,366.82 L200.36,364.75 L201.15,362.71 L201.93,360.71 L202.71,358.72 L203.50,356.76 L204.28,354.83 L205.06,352.92 L205.85,351.03 L206.63,349.16 L207.41,347.32 L208.20,345.50 L208.98,343.70 L209.76,341.93 L210.55,340.19 L211.33,338.47 L212.11,336.77 L212.90,335.09 L213.68,333.44 L214.46,331.82 L215.25,330.22 L216.03,328.65 L216.82,327.11 L217.60,325.59 L218.38,324.10 L219.17,322.64 L219.95,321.20 L220.73,319.80 L221.52,318.44 L222.30,317.13 L223.08,315.84 L223.87,314.58 L224.65,313.35 L225.43,312.13 L226.22,310.93 L227.00,309.73 L227.78,308.53 L228.57,307.33 L229.35,306.12 L230.13,304.89 L230.92,303.64 L231.70,302.37 L232.49,301.07 L233.27,299.76 L234.05,298.43 L234.84,297.09 L235.62,295.74 L236.40,294.40 L237.19,293.05 L237.97,291.71 L238.75,290.37 L239.54,289.05 L240.32,287.75 L241.10,286.46 L241.89,285.20 L242.67,283.96 L243.45,282.73 L244.24,281.52 L245.02,280.32 L245.80,279.13 L246.59,277.95 L247.37,276.78 L248.16,275.62 L248.94,274.46 L249.72,273.32 L250.51,272.19 L251.29,271.06 L252.07,269.94 L252.86,268.82 L253.64,267.71 L254.42,266.60 L255.21,265.50 L255.99,264.40 L256.77,263.31 L257.56,262.22 L258.34,261.14 L259.12,260.07 L259.91,259.00 L260.69,257.93 L261.48,256.88 L262.26,255.83 L263.04,254.78 L263.83,253.75 L264.61,252.72 L265.39,251.69 L266.18,250.68 L266.96,249.67 L267.74,248.68 L268.53,247.69 L269.31,246.70 L270.09,245.73 L270.88,244.76 L271.66,243.81 L272.44,242.86 L273.23,241.91 L274.01,240.97 L274.79,240.04 L275.58,239.11 L276.36,238.19 L277.14,237.27 L277.93,236.36 L278.71,235.45 L279.50,234.54 L280.28,233.64 L281.06,232.74 L281.85,231.84 L282.63,230.94 L283.41,230.05 L284.20,229.15 L284.98,228.26 L285.76,227.37 L286.55,226.47 L287.33,225.58 L288.11,224.68 L288.90,223.79 L289.68,222.90 L290.46,222.01 L291.25,221.12 L292.03,220.24 L292.81,219.36 L293.60,218.48 L294.38,217.61 L295.17,216.74 L295.95,215.87 L296.73,215.02 L297.52,214.16 L298.30,213.32 L299.08,212.48 L299.87,211.65 L300.65,210.83 L301.43,210.01 L302.22,209.20 L303.00,208.38 L303.78,207.58 L304.57,206.77 L305.35,205.97 L306.13,205.18 L306.92,204.39 L307.70,203.60 L308.49,202.81 L309.27,202.03 L310.05,201.25 L310.84,200.48 L311.62,199.71 L312.40,198.94 L313.19,198.18 L313.97,197.42 L314.75,196.67 L315.54,195.92 L316.32,195.18 L317.10,194.43 L317.89,193.69 L318.67,192.95 L319.45,192.20 L320.24,191.46 L321.02,190.72 L321.80,189.98 L322.59,189.24 L323.37,188.50 L324.15,187.77 L324.94,187.04 L325.72,186.32 L326.51,185.60 L327.29,184.88 L328.07,184.17 L328.86,183.47 L329.64,182.77 L330.42,182.08 L331.21,181.40 L331.99,180.73 L332.77,180.06 L333.56,179.41 L334.34,178.76 L335.12,178.13 L335.91,177.50 L336.69,176.89 L337.47,176.28 L338.26,175.69 L339.04,175.09 L339.82,174.51 L340.61,173.93 L341.39,173.36 L342.18,172.79 L342.96,172.23 L343.74,171.68 L344.53,171.13 L345.31,170.59 L346.09,170.05 L346.88,169.52 L347.66,168.99 L348.44,168.47 L349.23,167.96 L350.01,167.44 L350.79,166.94 L351.58,166.44 L352.36,165.94 L353.14,165.45 L353.93,164.96 L354.71,164.47 L355.50,163.99 L356.28,163.51 L357.06,163.03 L357.85,162.56 L358.63,162.09 L359.41,161.63 L360.20,161.17 L360.98,160.71 L361.76,160.26 L362.55,159.81 L363.33,159.36 L364.11,158.92 L364.90,158.49 L365.68,158.06 L366.46,157.63 L367.25,157.21 L368.03,156.79 L368.81,156.38 L369.60,155.98 L370.38,155.58 L371.16,155.18 L371.95,154.79 L372.73,154.41 L373.52,154.03 L374.30,153.66 L375.08,153.29 L375.87,152.93 L376.65,152.57 L377.43,152.21 L378.22,151.85 L379.00,151.50 L379.78,151.15 L380.57,150.81 L381.35,150.47 L382.13,150.14 L382.92,149.80 L383.70,149.48 L384.48,149.15 L385.27,148.83 L386.05,148.51 L386.83,148.20 L387.62,147.89 L388.40,147.58 L389.19,147.28 L389.97,146.98 L390.75,146.69 L391.54,146.40 L392.32,146.11 L393.10,145.83 L393.89,145.55 L394.67,145.28 L395.45,145.01 L396.24,144.74 L397.02,144.48 L397.80,144.23 L398.59,143.99 L399.37,143.75 L400.15,143.52 L400.94,143.29 L401.72,143.06 L402.50,142.83 L403.29,142.60 L404.07,142.37 L404.86,142.14 L405.64,141.91 L406.42,141.69 L407.21,141.46 L407.99,141.24 L408.77,141.02 L409.56,140.80 L410.34,140.58 L411.12,140.36 L411.91,140.15 L412.69,139.94 L413.47,139.73 L414.26,139.52 L415.04,139.32 L415.82,139.12 L416.61,138.93 L417.39,138.73 L418.18,138.55 L418.96,138.36 L419.74,138.18 L420.53,138.00 L421.31,137.83 L422.09,137.66 L422.88,137.50 L423.66,137.34 L424.44,137.19 L425.23,137.04 L426.01,136.90 L426.79,136.76 L427.58,136.62 L428.36,136.49 L429.14,136.35 L429.93,136.22 L430.71,136.09 L431.49,135.96 L432.28,135.83 L433.06,135.70 L433.84,135.58 L434.63,135.45 L435.41,135.33 L436.20,135.21 L436.98,135.10 L437.76,134.98 L438.55,134.87 L439.33,134.76 L440.11,134.65 L440.90,134.54 L441.68,134.44 L442.46,134.34 L443.25,134.24 L444.03,134.14 L444.81,134.04 L445.60,133.95 L446.38,133.85 L447.16,133.76 L447.95,133.67 L448.73,133.58 L449.51,133.50 L450.30,133.41 L451.08,133.33 L451.87,133.25 L452.65,133.17 L453.43,133.10 L454.22,133.02 L455.00,132.95 L455.78,132.88 L456.57,132.81 L457.35,132.74 L458.13,132.68 L458.92,132.62 L459.70,132.56 L460.48,132.50 L461.27,132.44 L462.05,132.38 L462.83,132.33 L463.62,132.27 L464.40,132.22 L465.19,132.16 L465.97,132.11 L466.75,132.06 L467.54,132.00 L468.32,131.95 L469.10,131.90 L469.89,131.85 L470.67,131.80 L471.45,131.76 L472.24,131.71 L473.02,131.66 L473.80,131.62 L474.59,131.57 L475.37,131.53 L476.15,131.49 L476.94,131.45 L477.72,131.41 L478.50,131.37 L479.29,131.33 L480.07,131.30 L480.85,131.26 L481.64,131.23 L482.42,131.19 L483.21,131.16 L483.99,131.13 L484.77,131.11 L485.56,131.08 L486.34,131.05 L487.12,131.03 L487.91,131.01 L488.69,130.99 L489.47,130.97 L490.26,130.95 L491.04,130.93 L491.82,130.91 L492.61,130.89 L493.39,130.87 L494.17,130.85 L494.96,130.83 L495.74,130.81 L496.52,130.79 L497.31,130.78 L498.09,130.76 L498.88,130.74 L499.66,130.72 L500.44,130.70 L501.23,130.69 L502.01,130.67 L502.79,130.65 L503.58,130.63 L504.36,130.62 L505.14,130.60 L505.93,130.58 L506.71,130.57 L507.49,130.55 L508.28,130.53 L509.06,130.52 L509.84,130.50 L510.63,130.49 L511.41,130.47 L512.19,130.46 L512.98,130.44 L513.76,130.43 L514.55,130.41 L515.33,130.40 L516.11,130.38 L516.90,130.37 L517.68,130.35 L518.46,130.34 L519.25,130.33 L520.03,130.31 L520.81,130.30 L521.60,130.29 L522.38,130.28 L523.16,130.27 L523.95,130.25 L524.73,130.24 L525.51,130.23 L526.30,130.22 L527.08,130.21 L527.87,130.20 L528.65,130.19 L529.43,130.18 L530.22,130.17 L531.00,130.16 L531.78,130.15 L532.57,130.14 L533.35,130.13 L534.13,130.13 L534.92,130.12 L535.70,130.11 L536.48,130.10 L537.27,130.10 L538.05,130.09 L538.83,130.08 L539.62,130.08 L540.40,130.07 L541.18,130.06 L541.97,130.06 L542.75,130.05 L543.53,130.05 L544.32,130.04 L545.10,130.04 L545.89,130.03 L546.67,130.03 L547.45,130.02 L548.24,130.02 L549.02,130.01 L549.80,130.01 L550.59,130.00 L551.37,130.00 L552.15,130.00 L552.94,129.99 L553.72,129.99 L554.50,129.99 L555.29,129.98 L556.07,129.98 L556.85,129.98 L557.64,129.97 L558.42,129.97 L559.20,129.97 L559.99,129.96 L560.77,129.96 L561.56,129.96 L562.34,129.95 L563.12,129.95 L563.91,129.95 L564.69,129.94 L565.47,129.94 L566.26,129.94 L567.04,129.93 L567.82,129.93 L568.61,129.93 L569.39,129.92 L570.17,129.92 L570.96,129.92 L571.74,129.91 L572.52,129.91 L573.31,129.91 L574.09,129.90 L574.88,129.90 L575.66,129.90 L576.44,129.89 L577.23,129.89 L578.01,129.89 L578.79,129.88 L579.58,129.88 L580.36,129.88 L581.14,129.87 L581.93,129.87 L582.71,129.87 L583.49,129.86 L584.28,129.86 L585.06,129.86 L585.84,129.86 L586.63,129.85 L587.41,129.85 L588.19,129.85 L588.98,129.84 L589.76,129.84 L590.54,129.84 L591.33,129.83 L592.11,129.83 L592.90,129.83 L593.68,129.83 L594.46,129.82 L595.25,129.82 L596.03,129.82 L596.81,129.81 L597.60,129.81 L598.38,129.81 L599.16,129.81 L599.95,129.80 L600.73,129.80 L601.51,129.80 L602.30,129.79 L603.08,129.79 L603.86,129.79 L604.65,129.79 L605.43,129.78 L606.21,129.78 L607.00,129.78 L607.78,129.78 L608.57,129.77 L609.35,129.77 L610.13,129.77 L610.92,129.76 L611.70,129.76 L612.48,129.76 L613.27,129.76 L614.05,129.75 L614.83,129.75 L615.62,129.75 L616.40,129.75 L617.18,129.74 L617.97,129.74 L618.75,129.74 L619.53,129.74 L620.32,129.73 L621.10,129.73 L621.88,129.73 L622.67,129.73 L623.45,129.72 L624.24,129.72 L625.02,129.72 L625.80,129.72 L626.59,129.71 L627.37,129.71 L628.15,129.71 L628.94,129.71 L629.72,129.70 L630.50,129.70 L631.29,129.70 L632.07,129.70 L632.85,129.69 L633.64,129.69 L634.42,129.69 L635.20,129.69 L635.99,129.69 L636.77,129.68 L637.55,129.68 L638.34,129.68 L639.12,129.68 L639.91,129.67 L640.69,129.67 L641.47,129.67 L642.26,129.67 L643.04,129.67 L643.82,129.66 L644.61,129.66 L645.39,129.66 L646.17,129.66 L646.96,129.65 L647.74,129.65 L648.52,129.65 L649.31,129.65 L650.09,129.65 L650.87,129.64 L651.66,129.64 L652.44,129.64 L653.22,129.64 L654.01,129.64 L654.79,129.63 L655.58,129.63 L656.36,129.63 L657.14,129.63 L657.93,129.63 L658.71,129.62 L659.49,129.62 L660.28,129.62 L661.06,129.62 L661.84,129.62 L662.63,129.61 L663.41,129.61 L664.19,129.61 L664.98,129.61 L665.76,129.61 L666.54,129.61 L667.33,129.60 L668.11,129.60 L668.89,129.60 L669.68,129.60 L670.46,129.60 L671.25,129.59 L672.03,129.59 L672.81,129.59 L673.60,129.59 L674.38,129.59 L675.16,129.59 L675.95,129.58 L676.73,129.58 L677.51,129.58 L678.30,129.58 L679.08,129.58 L679.86,129.58 L680.65,129.58 L681.43,129.57 L682.21,129.57 L683.00,129.57 L683.78,129.57 L684.57,129.57 L685.35,129.57 L686.13,129.56 L686.92,129.56 L687.70,129.56 L688.48,129.56 L689.27,129.56 L690.05,129.56 L690.83,129.56 L691.62,129.55 L692.40,129.55 L693.18,129.55 L693.97,129.55 L694.75,129.55 L695.53,129.55 L696.32,129.55 L697.10,129.55 L697.88,129.54 L698.67,129.54 L699.45,129.54 L700.23,129.54 L701.02,129.54 L701.80,129.54 L702.59,129.54 L703.37,129.54 L704.15,129.53 L704.94,129.53 L705.72,129.53 L706.50,129.53 L707.29,129.53 L708.07,129.53 L708.85,129.53 L709.64,129.53 L710.42,129.53 L711.20,129.52 L711.99,129.52 L712.77,129.52 L713.55,129.52 L714.34,129.52 L715.12,129.52 L715.90,129.52 L716.69,129.52 L717.47,129.52 L718.26,129.51 L719.04,129.51 L719.82,129.51 L720.61,129.51 L721.39,129.51 L722.17,129.51 L722.96,129.51 L723.74,129.51 L724.52,129.51 L725.31,129.51 L726.09,129.51 L726.87,129.51 L727.66,129.50 L728.44,129.50 L729.22,129.50 L730.01,129.50 L730.79,129.50 L731.58,129.50 L732.36,129.50 L733.14,129.50 L733.93,129.50 L734.71,129.50 L735.49,129.50 L736.28,129.50 L737.06,129.50 L737.84,129.50 L738.63,129.50 L739.41,129.49 L740.19,129.49 L740.98,129.49 L741.76,129.49 L742.54,129.49 L743.33,129.49 L744.11,129.49 L744.89,129.49 L745.68,129.49 L746.46,129.49 L747.24,129.49 L748.03,129.49 L748.81,129.49 L749.60,129.49 L750.38,129.49 L751.16,129.49 L751.95,129.49 L752.73,129.49 L753.51,129.49 L754.30,129.49 L755.08,129.49 L755.86,129.49 L756.65,129.49 L757.43,129.49 L758.21,129.49 L759.00,129.48 L759.78,129.48 L760.56,129.48 L761.35,129.48 L762.13,129.48 L762.91,129.48 L763.70,129.48 L764.48,129.48 L765.27,129.48 L766.05,129.48 L766.83,129.48 L767.62,129.48 L768.40,129.48 L769.18,129.48 L769.97,129.48 L770.75,129.48" stroke="#ffa500" stroke-dasharray="3.9 2.0"/>
</g>
<rect x="284.98" y="185.87" width="31.34" height="37.59" fill="none" stroke="#000" stroke-width="3.30" stroke-linejoin="round"/>
<rect x="143.95" y="35.50" width="626.80" height="563.90" fill="none" stroke="#000" stroke-width="3.30" />
<rect x="482.30" y="47.60" width="271.40" height="216.90" fill="#fff" stroke="#000" stroke-width="3.30" />
<path d="M654.80,63.20 H736.10 M654.80,57.20 V69.20 M736.10,57.20 V69.20" fill="none" stroke="#000" stroke-width="3.30"/>
<path d="M654.80,94.13 H736.10 M654.80,88.13 V100.13 M736.10,88.13 V100.13" fill="none" stroke="#000" stroke-width="3.30"/>
<path d="M654.80,125.06 H736.10 M654.80,119.06 V131.06 M736.10,119.06 V131.06" fill="none" stroke="#000" stroke-width="3.30"/>
<path d="M687.05,54.80 L703.85,71.60 M687.05,71.60 L703.85,54.80" fill="none" stroke="#000" stroke-width="3.30"/>
<rect x="687.05" y="85.73" width="16.80" height="16.80" fill="none" stroke="#000" stroke-width="3.30"/>
<circle cx="695.45" cy="125.06" r="8.40" fill="none" stroke="#000" stroke-width="3.30"/>
<g fill="none" stroke-width="3.85">
<path d="M654.80,155.99 H736.10" stroke="#0000cd" stroke-dasharray="12 3.64"/>
<path d="M654.80,186.92 H736.10" stroke="#ff0000"/>
<path d="M654.80,217.85 H736.10" stroke="#00c000" stroke-dasharray="49.2 3.6 6.2 3.6"/>
<path d="M654.80,248.78 H736.10" stroke="#ffa500" stroke-dasharray="3.9 2.0"/>
</g>
<rect x="424.40" y="286.50" width="315.40" height="252.50" fill="#fff"/>
<g fill="none" stroke="#000" stroke-width="3.30">
<path d="M463.59,483.92 L475.59,483.92 M528.71,435.75 L540.71,435.75 M591.17,392.08 L603.17,392.08 M651.27,352.51 L663.27,352.51 M426.07,512.34 L438.07,512.34 M503.26,454.33 L515.26,454.33 M576.67,401.94 L588.67,401.94 M646.82,355.37 L658.82,355.37 M714.10,313.06 L726.10,313.06 M433.55,506.65 L445.55,506.65 M520.57,441.65 L532.57,441.65 M602.87,384.21 L614.87,384.21 M681.15,333.53 L693.15,333.53"/>
<path d="M461.19,475.52 L477.99,492.32 M461.19,492.32 L477.99,475.52"/><path d="M526.31,427.35 L543.11,444.15 M526.31,444.15 L543.11,427.35"/><path d="M588.77,383.68 L605.57,400.48 M588.77,400.48 L605.57,383.68"/><path d="M648.87,344.11 L665.67,360.91 M648.87,360.91 L665.67,344.11"/><rect x="423.67" y="503.94" width="16.80" height="16.80"/><rect x="500.86" y="445.93" width="16.80" height="16.80"/><rect x="574.27" y="393.54" width="16.80" height="16.80"/><rect x="644.42" y="346.97" width="16.80" height="16.80"/><rect x="711.70" y="304.66" width="16.80" height="16.80"/><circle cx="439.55" cy="506.65" r="8.40"/><circle cx="526.57" cy="441.65" r="8.40"/><circle cx="608.87" cy="384.21" r="8.40"/><circle cx="687.15" cy="333.53" r="8.40"/>
</g>
<g clip-path="url(#ci)" fill="none" stroke-width="3.85" stroke-linejoin="round">
<path d="M408.63,530.17 L411.78,527.77 L414.94,525.37 L418.09,522.97 L421.25,520.57 L424.40,518.17 L427.55,515.77 L430.71,513.37 L433.86,510.97 L437.02,508.58 L440.17,506.18 L443.32,503.79 L446.48,501.39 L449.63,499.00 L452.79,496.61 L455.94,494.23 L459.09,491.84 L462.25,489.46 L465.40,487.08 L468.56,484.70 L471.71,482.32 L474.86,479.95 L478.02,477.58 L481.17,475.22 L484.33,472.86 L487.48,470.50 L490.63,468.14 L493.79,465.79 L496.94,463.45 L500.10,461.11 L503.25,458.77 L506.40,456.44 L509.56,454.11 L512.71,451.79 L515.87,449.47 L519.02,447.16 L522.17,444.85 L525.33,442.55 L528.48,440.26 L531.64,437.97 L534.79,435.69 L537.94,433.41 L541.10,431.14 L544.25,428.88 L547.41,426.63 L550.56,424.38 L553.71,422.14 L556.87,419.90 L560.02,417.68 L563.18,415.46 L566.33,413.25 L569.48,411.05 L572.64,408.86 L575.79,406.68 L578.95,404.50 L582.10,402.33 L585.25,400.18 L588.41,398.02 L591.56,395.88 L594.72,393.74 L597.87,391.60 L601.02,389.48 L604.18,387.36 L607.33,385.24 L610.49,383.13 L613.64,381.03 L616.79,378.93 L619.95,376.84 L623.10,374.75 L626.26,372.67 L629.41,370.60 L632.56,368.53 L635.72,366.47 L638.87,364.41 L642.03,362.36 L645.18,360.31 L648.33,358.27 L651.49,356.23 L654.64,354.20 L657.80,352.17 L660.95,350.15 L664.10,348.13 L667.26,346.12 L670.41,344.11 L673.57,342.11 L676.72,340.11 L679.87,338.11 L683.03,336.12 L686.18,334.14 L689.34,332.16 L692.49,330.18 L695.64,328.21 L698.80,326.24 L701.95,324.28 L705.11,322.32 L708.26,320.37 L711.41,318.41 L714.57,316.47 L717.72,314.52 L720.88,312.58 L724.03,310.65 L727.18,308.71 L730.34,306.78 L733.49,304.86 L736.65,302.94 L739.80,301.02 L742.95,299.10 L746.11,297.18 L749.26,295.26 L752.42,293.34 L755.57,291.42" stroke="#ff0000"/>
<path d="M408.63,551.87 L411.78,549.48 L414.94,547.10 L418.09,544.71 L421.25,542.33 L424.40,539.95 L427.55,537.56 L430.71,535.18 L433.86,532.80 L437.02,530.42 L440.17,528.04 L443.32,525.66 L446.48,523.28 L449.63,520.90 L452.79,518.53 L455.94,516.16 L459.09,513.79 L462.25,511.42 L465.40,509.05 L468.56,506.69 L471.71,504.33 L474.86,501.97 L478.02,499.61 L481.17,497.26 L484.33,494.92 L487.48,492.57 L490.63,490.23 L493.79,487.89 L496.94,485.56 L500.10,483.23 L503.25,480.91 L506.40,478.59 L509.56,476.27 L512.71,473.96 L515.87,471.66 L519.02,469.36 L522.17,467.06 L525.33,464.78 L528.48,462.49 L531.64,460.22 L534.79,457.95 L537.94,455.68 L541.10,453.43 L544.25,451.17 L547.41,448.93 L550.56,446.69 L553.71,444.46 L556.87,442.24 L560.02,440.03 L563.18,437.82 L566.33,435.62 L569.48,433.43 L572.64,431.24 L575.79,429.07 L578.95,426.90 L582.10,424.74 L585.25,422.59 L588.41,420.45 L591.56,418.31 L594.72,416.18 L597.87,414.06 L601.02,411.94 L604.18,409.83 L607.33,407.72 L610.49,405.62 L613.64,403.53 L616.79,401.44 L619.95,399.35 L623.10,397.28 L626.26,395.20 L629.41,393.14 L632.56,391.08 L635.72,389.02 L638.87,386.97 L642.03,384.93 L645.18,382.89 L648.33,380.85 L651.49,378.82 L654.64,376.80 L657.80,374.78 L660.95,372.77 L664.10,370.76 L667.26,368.75 L670.41,366.75 L673.57,364.75 L676.72,362.76 L679.87,360.77 L683.03,358.79 L686.18,356.81 L689.34,354.84 L692.49,352.87 L695.64,350.90 L698.80,348.94 L701.95,346.98 L705.11,345.02 L708.26,343.07 L711.41,341.12 L714.57,339.18 L717.72,337.24 L720.88,335.30 L724.03,333.37 L727.18,331.44 L730.34,329.51 L733.49,327.58 L736.65,325.66 L739.80,323.74 L742.95,321.83 L746.11,319.91 L749.26,317.98 L752.42,316.06 L755.57,314.13" stroke="#00c000" stroke-dasharray="49.2 3.6 6.2 3.6" stroke-dashoffset="40.4"/>
<path d="M408.63,583.20 L411.78,580.79 L414.94,578.39 L418.09,575.99 L421.25,573.59 L424.40,571.19 L427.55,568.79 L430.71,566.39 L433.86,563.99 L437.02,561.59 L440.17,559.19 L443.32,556.79 L446.48,554.38 L449.63,551.98 L452.79,549.58 L455.94,547.18 L459.09,544.78 L462.25,542.38 L465.40,539.99 L468.56,537.59 L471.71,535.20 L474.86,532.80 L478.02,530.41 L481.17,528.03 L484.33,525.64 L487.48,523.26 L490.63,520.88 L493.79,518.51 L496.94,516.13 L500.10,513.76 L503.25,511.40 L506.40,509.04 L509.56,506.68 L512.71,504.33 L515.87,501.98 L519.02,499.64 L522.17,497.30 L525.33,494.97 L528.48,492.64 L531.64,490.32 L534.79,488.00 L537.94,485.69 L541.10,483.39 L544.25,481.09 L547.41,478.80 L550.56,476.51 L553.71,474.24 L556.87,471.97 L560.02,469.71 L563.18,467.45 L566.33,465.20 L569.48,462.97 L572.64,460.74 L575.79,458.51 L578.95,456.30 L582.10,454.10 L585.25,451.90 L588.41,449.70 L591.56,447.51 L594.72,445.33 L597.87,443.14 L601.02,440.96 L604.18,438.79 L607.33,436.61 L610.49,434.45 L613.64,432.28 L616.79,430.12 L619.95,427.96 L623.10,425.81 L626.26,423.66 L629.41,421.51 L632.56,419.37 L635.72,417.23 L638.87,415.10 L642.03,412.96 L645.18,410.84 L648.33,408.72 L651.49,406.60 L654.64,404.48 L657.80,402.37 L660.95,400.26 L664.10,398.16 L667.26,396.06 L670.41,393.97 L673.57,391.88 L676.72,389.79 L679.87,387.71 L683.03,385.63 L686.18,383.56 L689.34,381.49 L692.49,379.43 L695.64,377.37 L698.80,375.31 L701.95,373.26 L705.11,371.21 L708.26,369.17 L711.41,367.13 L714.57,365.10 L717.72,363.07 L720.88,361.05 L724.03,359.03 L727.18,357.01 L730.34,355.00 L733.49,352.99 L736.65,350.99 L739.80,348.99 L742.95,347.00 L746.11,345.00 L749.26,343.00 L752.42,341.01 L755.57,339.01" stroke="#ffa500" stroke-dasharray="3.9 2.0"/>
</g>
<path d="M582.10,539.00 V527.00 M582.10,286.50 V298.50 M424.40,412.75 H436.40 M739.80,412.75 H727.80" fill="none" stroke="#000" stroke-width="3.30"/>
<rect x="424.40" y="286.50" width="315.40" height="252.50" fill="none" stroke="#000" stroke-width="3.30" />
<g font-family="'Liberation Sans', sans-serif" fill="#000" opacity="0.999">
<text transform="matrix(0.9968 0 0 1 0 0)" x="110.57" y="610.10" font-size="28.86">0</text>
<text transform="matrix(0.9815 0 0 1 0 0)" x="85.97 103.21 112.07" y="516.12" font-size="28.86">0.2</text>
<text transform="matrix(0.9950 0 0 1 0 0)" x="84.70 101.76 110.82" y="422.13" font-size="28.86">0.4</text>
<text transform="matrix(1.0108 0 0 1 0 0)" x="83.25 100.10 108.95" y="328.15" font-size="28.86">0.6</text>
<text transform="matrix(1.0013 0 0 1 0 0)" x="84.12 101.09 110.07" y="234.17" font-size="28.86">0.8</text>
<text transform="matrix(0.9480 0 0 1 0 0)" x="116.60" y="140.18" font-size="28.86">1</text>
<text transform="matrix(0.9593 0 0 1 0 0)" x="88.07 105.69 114.85" y="46.20" font-size="28.86">1.2</text>
<text transform="matrix(0.9968 0 0 1 0 0)" x="140.47" y="640.60" font-size="28.86">0</text>
<text transform="matrix(0.9375 0 0 1 0 0)" x="233.35" y="640.60" font-size="28.86">5</text>
<text transform="matrix(0.9736 0 0 1 0 0)" x="295.99 313.85" y="640.60" font-size="28.86">10</text>
<text transform="matrix(0.9425 0 0 1 0 0)" x="389.15 407.52" y="640.60" font-size="28.86">15</text>
<text transform="matrix(0.9779 0 0 1 0 0)" x="454.63 472.67" y="640.60" font-size="28.86">20</text>
<text transform="matrix(0.9476 0 0 1 0 0)" x="552.11 570.66" y="640.60" font-size="28.86">25</text>
<text transform="matrix(0.9747 0 0 1 0 0)" x="617.32 635.03" y="640.60" font-size="28.86">30</text>
<text transform="matrix(0.9450 0 0 1 0 0)" x="719.86 738.07" y="640.60" font-size="28.86">35</text>
<text transform="matrix(0.9929 0 0 1 0 0)" x="763.68 781.07" y="640.60" font-size="28.86">40</text>
<text transform="matrix(1.0013 0 0 1 0 0)" x="363.86 380.84 389.82" y="549.30" font-size="28.86">0.8</text>
<text transform="matrix(0.9973 0 0 1 0 0)" x="347.98 365.01 374.04 391.40" y="423.05" font-size="28.86">0.84</text>
<text transform="matrix(1.0017 0 0 1 0 0)" x="346.42 363.39 372.37 389.64" y="296.80" font-size="28.86">0.88</text>
<text transform="matrix(1.0240 0 0 1 0 0)" x="410.19" y="580.30" font-size="28.86">9</text>
<text transform="matrix(0.9736 0 0 1 0 0)" x="584.97 602.83" y="580.30" font-size="28.86">10</text>
<text transform="matrix(0.9480 0 0 1 0 0)" x="767.37 785.63" y="580.30" font-size="28.86">11</text>
<text transform="matrix(1.0569 0 0 1 0 0)" x="425.59" y="687.20" font-size="28.86">k</text>
<g transform="translate(35.5,326.1) rotate(-90)"><text transform="matrix(0.8442 0 0 1 0 0)" x="0.80" y="0.00" font-size="28.86">S</text></g>
<text transform="matrix(0.9262 0 0 1 0 0)" x="531.35 554.81 579.21 600.01 609.55 622.01 640.77 659.45 678.51" y="74.40" font-size="28.86">QMC (100)</text>
<text transform="matrix(0.9241 0 0 1 0 0)" x="551.30 574.82 599.27 620.09 629.66 642.26 660.95 680.04" y="105.18" font-size="28.86">QMC (80)</text>
<text transform="matrix(0.9302 0 0 1 0 0)" x="547.64 571.00 595.29 616.05 625.53 638.03 656.64 675.59" y="135.96" font-size="28.86">QMC (66)</text>
<text transform="matrix(0.9968 0 0 1 0 0)" x="626.01" y="172.54" font-size="23.34">0</text>
<text transform="matrix(0.9003 0 0 1 0 0)" x="635.17 655.59 672.54" y="166.74" font-size="28.86">RPA</text>
<text transform="matrix(0.9695 0 0 1 0 0)" x="570.74 590.12 607.62 615.41 623.43 640.93" y="197.52" font-size="28.86">Spline</text>
<text transform="matrix(0.9195 0 0 1 0 0)" x="621.12 640.21 658.90 674.44" y="228.30" font-size="28.86">STLS</text>
<text transform="matrix(0.9003 0 0 1 0 0)" x="650.72 671.14 688.09" y="259.08" font-size="28.86">RPA</text>
</g>
</svg>
</body>
</html>
